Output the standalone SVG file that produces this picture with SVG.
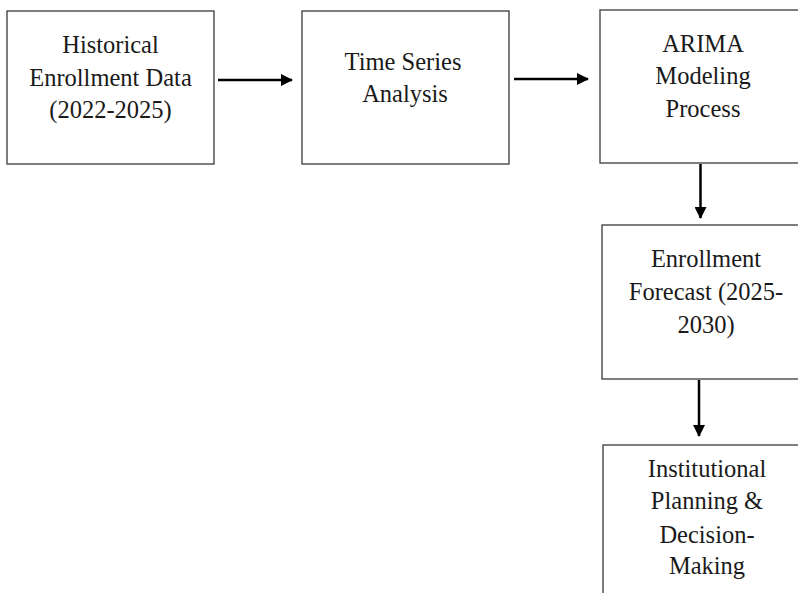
<svg xmlns="http://www.w3.org/2000/svg" width="798" height="593" viewBox="0 0 798 593">
<style>
.box{fill:#fff;stroke:#3a3a3a;stroke-width:1.3}
.t{font-family:"Liberation Serif","Times New Roman",serif;font-size:24.5px;fill:#1a1a1a;text-anchor:middle}
.c{stroke:#000;stroke-width:2.5;fill:none}
</style>
<defs>
<marker id="ah" viewBox="0 0 12 12" refX="11" refY="6" markerWidth="12" markerHeight="12" markerUnits="userSpaceOnUse" orient="auto">
<path d="M0,0 L12,6 L0,12 z" fill="#000"/>
</marker>
</defs>
<rect width="798" height="593" fill="#fff"/>
<g id="n1">
<rect class="box" x="7" y="11" width="207" height="153"/>
<text class="t" x="110.5" y="53">Historical</text>
<text class="t" x="110.5" y="86">Enrollment Data</text>
<text class="t" x="110.5" y="118">(2022-2025)</text>
</g>
<g id="n2">
<rect class="box" x="302" y="11" width="207" height="153"/>
<text class="t" x="403" y="70">Time Series</text>
<text class="t" x="405" y="102">Analysis</text>
</g>
<g id="n3">
<rect class="box" x="600" y="10" width="207" height="153"/>
<text class="t" x="703" y="52">ARIMA</text>
<text class="t" x="703" y="84">Modeling</text>
<text class="t" x="703" y="117">Process</text>
</g>
<g id="n4">
<rect class="box" x="602" y="225" width="207" height="154"/>
<text class="t" x="706" y="267">Enrollment</text>
<text class="t" x="706" y="300">Forecast (2025-</text>
<text class="t" x="706" y="333">2030)</text>
</g>
<g id="n5">
<rect class="box" x="603" y="445" width="207" height="160"/>
<text class="t" x="707" y="477">Institutional</text>
<text class="t" x="707" y="509">Planning &amp;</text>
<text class="t" x="707" y="543">Decision-</text>
<text class="t" x="707" y="574">Making</text>
</g>
<g id="connectors">
<line class="c" x1="218" y1="80" x2="292" y2="80" marker-end="url(#ah)"/>
<line class="c" x1="514" y1="79" x2="588" y2="79" marker-end="url(#ah)"/>
<line class="c" x1="700.5" y1="164" x2="700.5" y2="218" marker-end="url(#ah)"/>
<line class="c" x1="699" y1="380" x2="699" y2="436" marker-end="url(#ah)"/>
</g>
</svg>
